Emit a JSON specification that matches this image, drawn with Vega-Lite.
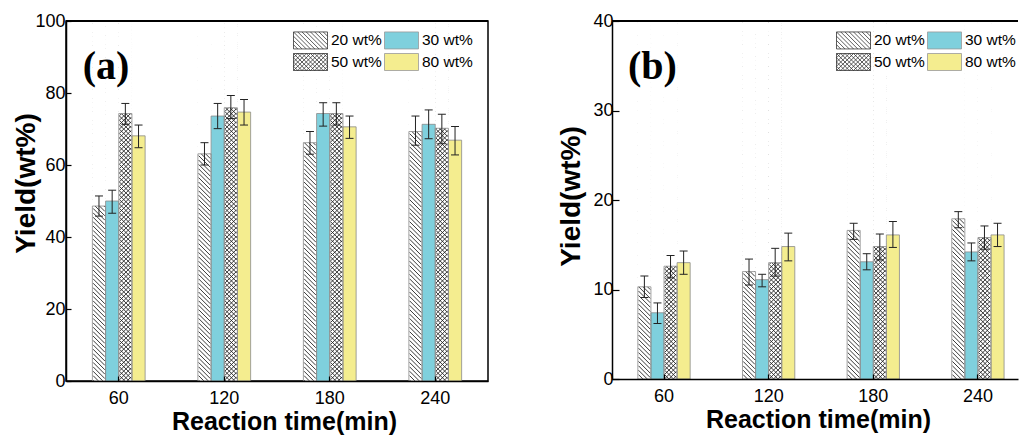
{
  "$schema": "https://vega.github.io/schema/vega-lite/v6.json",
  "background": "white",
  "padding": {"left": 11, "top": 11, "right": 0, "bottom": 0},
  "datasets": {
    "a": [
      {"t": 60, "s": "20 wt%", "v": 48.6, "lo": 45.8, "hi": 51.4},
      {"t": 60, "s": "30 wt%", "v": 50.0, "lo": 46.6, "hi": 53.0},
      {"t": 60, "s": "50 wt%", "v": 74.3, "lo": 71.3, "hi": 77.1},
      {"t": 60, "s": "80 wt%", "v": 68.1, "lo": 64.8, "hi": 71.1},
      {"t": 120, "s": "20 wt%", "v": 63.1, "lo": 60.0, "hi": 66.2},
      {"t": 120, "s": "30 wt%", "v": 73.6, "lo": 70.1, "hi": 77.1},
      {"t": 120, "s": "50 wt%", "v": 75.9, "lo": 72.9, "hi": 79.3},
      {"t": 120, "s": "80 wt%", "v": 74.7, "lo": 71.1, "hi": 78.2},
      {"t": 180, "s": "20 wt%", "v": 66.2, "lo": 63.0, "hi": 69.3},
      {"t": 180, "s": "30 wt%", "v": 74.3, "lo": 70.8, "hi": 77.3},
      {"t": 180, "s": "50 wt%", "v": 74.3, "lo": 71.1, "hi": 77.3},
      {"t": 180, "s": "80 wt%", "v": 70.6, "lo": 67.4, "hi": 73.6},
      {"t": 240, "s": "20 wt%", "v": 69.3, "lo": 65.5, "hi": 73.6},
      {"t": 240, "s": "30 wt%", "v": 71.3, "lo": 67.3, "hi": 75.3},
      {"t": 240, "s": "50 wt%", "v": 70.2, "lo": 65.9, "hi": 74.1},
      {"t": 240, "s": "80 wt%", "v": 66.9, "lo": 62.8, "hi": 70.7}
    ],
    "b": [
      {"t": 60, "s": "20 wt%", "v": 10.3, "lo": 9.1, "hi": 11.5},
      {"t": 60, "s": "30 wt%", "v": 7.4, "lo": 6.2, "hi": 8.5},
      {"t": 60, "s": "50 wt%", "v": 12.6, "lo": 11.3, "hi": 13.8},
      {"t": 60, "s": "80 wt%", "v": 13.0, "lo": 11.7, "hi": 14.3},
      {"t": 120, "s": "20 wt%", "v": 12.0, "lo": 10.5, "hi": 13.4},
      {"t": 120, "s": "30 wt%", "v": 11.1, "lo": 10.3, "hi": 11.7},
      {"t": 120, "s": "50 wt%", "v": 13.0, "lo": 11.5, "hi": 14.6},
      {"t": 120, "s": "80 wt%", "v": 14.8, "lo": 13.2, "hi": 16.3},
      {"t": 180, "s": "20 wt%", "v": 16.6, "lo": 15.6, "hi": 17.4},
      {"t": 180, "s": "30 wt%", "v": 13.1, "lo": 12.2, "hi": 14.0},
      {"t": 180, "s": "50 wt%", "v": 14.8, "lo": 13.3, "hi": 16.2},
      {"t": 180, "s": "80 wt%", "v": 16.1, "lo": 14.7, "hi": 17.6},
      {"t": 240, "s": "20 wt%", "v": 17.9, "lo": 16.9, "hi": 18.7},
      {"t": 240, "s": "30 wt%", "v": 14.2, "lo": 13.2, "hi": 15.2},
      {"t": 240, "s": "50 wt%", "v": 15.8, "lo": 14.5, "hi": 17.1},
      {"t": 240, "s": "80 wt%", "v": 16.1, "lo": 14.8, "hi": 17.4}
    ]
  },
  "spacing": 67,
  "resolve": {
    "scale": {"fill": "independent", "x": "independent", "y": "independent", "xOffset": "independent"},
    "legend": {"fill": "independent"}
  },
  "hconcat": [
    {
      "width": 422,
      "height": 360,
      "data": {"name": "a"},
      "view": {"stroke": "black", "strokeWidth": 1.5},
      "layer": [
        {
          "mark": {"type": "bar", "opacity": 1, "strokeWidth": 0},
          "encoding": {
            "x": {"field": "t", "type": "ordinal", "title": "Reaction time(min)", "scale": {"paddingInner": 0.5, "paddingOuter": 0.25}, "axis": {"labelAngle": 0, "tickSize": -5, "labelPadding": 13, "titleX": 218, "titleY": 48, "titleBaseline": "alphabetic", "zindex": 1}},
            "xOffset": {"field": "s", "type": "nominal", "scale": {"domain": ["20 wt%", "30 wt%", "50 wt%", "80 wt%"], "paddingInner": 0, "paddingOuter": 0}},
            "y": {"field": "v", "type": "quantitative", "title": "Yield(wt%)", "scale": {"domain": [0, 100], "nice": false}, "axis": {"values": [0, 20, 40, 60, 80, 100], "tickSize": -5, "labelPadding": 6, "titleX": -32, "titleY": 162, "titleBaseline": "alphabetic", "zindex": 1}},
            "fill": {
              "field": "s", "type": "nominal",
              "scale": {"domain": ["20 wt%", "30 wt%", "50 wt%", "80 wt%"], "range": ["#ffffff", "#7fd0dd", "#ffffff", "#f4ed8f"]},
              "legend": {
                "orient": "none", "legendX": 227, "legendY": 10, "columns": 2, "direction": "horizontal", "title": null,
                "symbolSize": 289, "labelOffset": 20, "columnPadding": 0, "rowPadding": 0,
                "symbolType": {"expr": "datum.value === '20 wt%' ? 'M-1,-1H3V1H-1ZM2.5,-1L3,-0.5M2,-1L3,0M1.5,-1L3,0.5M1,-1L3,1M0.5,-1L2.5,1M0,-1L2,1M-0.5,-1L1.5,1M-1,-1L1,1M-1,-0.5L0.5,1M-1,0L0,1M-1,0.5L-0.5,1' : datum.value === '50 wt%' ? 'M-1,-1H3V1H-1ZM2.5,-1L3,-0.5M2,-1L3,0M1.5,-1L3,0.5M1,-1L3,1M0.5,-1L2.5,1M0,-1L2,1M-0.5,-1L1.5,1M-1,-1L1,1M-1,-0.5L0.5,1M-1,0L0,1M-1,0.5L-0.5,1M-1,-0.5L-0.5,-1M-1,0L0,-1M-1,0.5L0.5,-1M-1,1L1,-1M-0.5,1L1.5,-1M0,1L2,-1M0.5,1L2.5,-1M1,1L3,-1M1.5,1L3,-0.5M2,1L3,0M2.5,1L3,0.5' : 'M-1,-1H3V1H-1Z'"},
                "symbolStrokeColor": {"expr": "datum.value === '20 wt%' || datum.value === '50 wt%' ? '#333333' : '#999999'"},
                "symbolStrokeWidth": 0.8
              }
            }
          }
        },
        {
          "transform": [{"filter": {"field": "s", "oneOf": ["20 wt%", "50 wt%"]}}],
          "mark": {"type": "point", "style": "h20", "size": 4, "filled": false, "stroke": "#222222", "strokeWidth": 0.9, "opacity": 1, "clip": true},
          "encoding": {
            "x": {"field": "t", "type": "ordinal", "title": "Reaction time(min)"},
            "xOffset": {"field": "s", "type": "nominal"},
            "y": {"datum": 50, "type": "quantitative"}
          }
        },
        {
          "transform": [{"filter": {"field": "s", "equal": "50 wt%"}}],
          "mark": {"type": "point", "style": "hx", "size": 4, "filled": false, "stroke": "#222222", "strokeWidth": 0.9, "opacity": 1, "clip": true},
          "encoding": {
            "x": {"field": "t", "type": "ordinal", "title": "Reaction time(min)"},
            "xOffset": {"field": "s", "type": "nominal"},
            "y": {"datum": 50, "type": "quantitative"}
          }
        },
        {
          "transform": [{"filter": {"field": "s", "oneOf": ["20 wt%", "50 wt%"]}}],
          "mark": {"type": "bar", "fill": "white", "opacity": 1, "strokeWidth": 0},
          "encoding": {
            "x": {"field": "t", "type": "ordinal", "title": "Reaction time(min)"},
            "xOffset": {"field": "s", "type": "nominal"},
            "y": {"field": "v", "type": "quantitative", "title": "Yield(wt%)"},
            "y2": {"datum": 100}
          }
        },
        {
          "mark": {"type": "bar", "fillOpacity": 0, "stroke": "#8a8a8a", "strokeWidth": 0.8, "opacity": 1},
          "encoding": {
            "x": {"field": "t", "type": "ordinal", "title": "Reaction time(min)"},
            "xOffset": {"field": "s", "type": "nominal"},
            "y": {"field": "v", "type": "quantitative", "title": "Yield(wt%)"}
          }
        },
        {
          "mark": {"type": "rule", "color": "#222222", "strokeWidth": 1, "opacity": 1},
          "encoding": {
            "x": {"field": "t", "type": "ordinal", "title": "Reaction time(min)"},
            "xOffset": {"field": "s", "type": "nominal"},
            "y": {"field": "lo", "type": "quantitative", "title": "Yield(wt%)"},
            "y2": {"field": "hi"}
          }
        },
        {
          "mark": {"type": "tick", "color": "#222222", "thickness": 1, "size": 8, "opacity": 1},
          "encoding": {
            "x": {"field": "t", "type": "ordinal", "title": "Reaction time(min)"},
            "xOffset": {"field": "s", "type": "nominal"},
            "y": {"field": "lo", "type": "quantitative", "title": "Yield(wt%)"}
          }
        },
        {
          "mark": {"type": "tick", "color": "#222222", "thickness": 1, "size": 8, "opacity": 1},
          "encoding": {
            "x": {"field": "t", "type": "ordinal", "title": "Reaction time(min)"},
            "xOffset": {"field": "s", "type": "nominal"},
            "y": {"field": "hi", "type": "quantitative", "title": "Yield(wt%)"}
          }
        },
        {
          "mark": {"type": "rule", "color": "black", "strokeWidth": 1.5},
          "encoding": {"y": {"datum": 100, "type": "quantitative"}}
        },
        {
          "data": {"values": [{"label": "(a)"}]},
          "mark": {"type": "text", "font": "Liberation Serif", "fontSize": 40, "fontWeight": "bold", "color": "black", "align": "left", "baseline": "alphabetic", "dx": -36},
          "encoding": {
            "x": {"datum": 60, "type": "ordinal"},
            "y": {"datum": 83.9, "type": "quantitative"},
            "text": {"field": "label"}
          }
        }
      ]
    },
    {
      "width": 406,
      "height": 358,
      "data": {"name": "b"},
      "view": {"stroke": null},
      "layer": [
        {
          "mark": {"type": "bar", "opacity": 1, "strokeWidth": 0},
          "encoding": {
            "x": {"field": "t", "type": "ordinal", "title": "Reaction time(min)", "scale": {"paddingInner": 0.5, "paddingOuter": 0.19, "align": 0.65}, "axis": {"labelAngle": 0, "tickSize": -5, "labelPadding": 13, "titleX": 206, "titleY": 48, "titleBaseline": "alphabetic", "zindex": 1}},
            "xOffset": {"field": "s", "type": "nominal", "scale": {"domain": ["20 wt%", "30 wt%", "50 wt%", "80 wt%"], "paddingInner": 0, "paddingOuter": 0}},
            "y": {"field": "v", "type": "quantitative", "title": "Yield(wt%)", "scale": {"domain": [0, 40], "nice": false}, "axis": {"values": [0, 10, 20, 30, 40], "tickSize": -7, "labelPadding": 6, "titleX": -33, "titleY": 175, "titleBaseline": "alphabetic", "zindex": 1}},
            "fill": {
              "field": "s", "type": "nominal",
              "scale": {"domain": ["20 wt%", "30 wt%", "50 wt%", "80 wt%"], "range": ["#ffffff", "#7fd0dd", "#ffffff", "#f4ed8f"]},
              "legend": {
                "orient": "none", "legendX": 224, "legendY": 10, "columns": 2, "direction": "horizontal", "title": null,
                "symbolSize": 289, "labelOffset": 20, "columnPadding": 0, "rowPadding": 0,
                "symbolType": {"expr": "datum.value === '20 wt%' ? 'M-1,-1H3V1H-1ZM2.5,-1L3,-0.5M2,-1L3,0M1.5,-1L3,0.5M1,-1L3,1M0.5,-1L2.5,1M0,-1L2,1M-0.5,-1L1.5,1M-1,-1L1,1M-1,-0.5L0.5,1M-1,0L0,1M-1,0.5L-0.5,1' : datum.value === '50 wt%' ? 'M-1,-1H3V1H-1ZM2.5,-1L3,-0.5M2,-1L3,0M1.5,-1L3,0.5M1,-1L3,1M0.5,-1L2.5,1M0,-1L2,1M-0.5,-1L1.5,1M-1,-1L1,1M-1,-0.5L0.5,1M-1,0L0,1M-1,0.5L-0.5,1M-1,-0.5L-0.5,-1M-1,0L0,-1M-1,0.5L0.5,-1M-1,1L1,-1M-0.5,1L1.5,-1M0,1L2,-1M0.5,1L2.5,-1M1,1L3,-1M1.5,1L3,-0.5M2,1L3,0M2.5,1L3,0.5' : 'M-1,-1H3V1H-1Z'"},
                "symbolStrokeColor": {"expr": "datum.value === '20 wt%' || datum.value === '50 wt%' ? '#333333' : '#999999'"},
                "symbolStrokeWidth": 0.8
              }
            }
          }
        },
        {
          "transform": [{"filter": {"field": "s", "oneOf": ["20 wt%", "50 wt%"]}}],
          "mark": {"type": "point", "style": "h20", "size": 4, "filled": false, "stroke": "#222222", "strokeWidth": 0.9, "opacity": 1, "clip": true},
          "encoding": {
            "x": {"field": "t", "type": "ordinal", "title": "Reaction time(min)"},
            "xOffset": {"field": "s", "type": "nominal"},
            "y": {"datum": 20, "type": "quantitative"}
          }
        },
        {
          "transform": [{"filter": {"field": "s", "equal": "50 wt%"}}],
          "mark": {"type": "point", "style": "hx", "size": 4, "filled": false, "stroke": "#222222", "strokeWidth": 0.9, "opacity": 1, "clip": true},
          "encoding": {
            "x": {"field": "t", "type": "ordinal", "title": "Reaction time(min)"},
            "xOffset": {"field": "s", "type": "nominal"},
            "y": {"datum": 20, "type": "quantitative"}
          }
        },
        {
          "transform": [{"filter": {"field": "s", "oneOf": ["20 wt%", "50 wt%"]}}],
          "mark": {"type": "bar", "fill": "white", "opacity": 1, "strokeWidth": 0},
          "encoding": {
            "x": {"field": "t", "type": "ordinal", "title": "Reaction time(min)"},
            "xOffset": {"field": "s", "type": "nominal"},
            "y": {"field": "v", "type": "quantitative", "title": "Yield(wt%)"},
            "y2": {"datum": 40}
          }
        },
        {
          "mark": {"type": "bar", "fillOpacity": 0, "stroke": "#8a8a8a", "strokeWidth": 0.8, "opacity": 1},
          "encoding": {
            "x": {"field": "t", "type": "ordinal", "title": "Reaction time(min)"},
            "xOffset": {"field": "s", "type": "nominal"},
            "y": {"field": "v", "type": "quantitative", "title": "Yield(wt%)"}
          }
        },
        {
          "mark": {"type": "rule", "color": "#222222", "strokeWidth": 1, "opacity": 1},
          "encoding": {
            "x": {"field": "t", "type": "ordinal", "title": "Reaction time(min)"},
            "xOffset": {"field": "s", "type": "nominal"},
            "y": {"field": "lo", "type": "quantitative", "title": "Yield(wt%)"},
            "y2": {"field": "hi"}
          }
        },
        {
          "mark": {"type": "tick", "color": "#222222", "thickness": 1, "size": 8, "opacity": 1},
          "encoding": {
            "x": {"field": "t", "type": "ordinal", "title": "Reaction time(min)"},
            "xOffset": {"field": "s", "type": "nominal"},
            "y": {"field": "lo", "type": "quantitative", "title": "Yield(wt%)"}
          }
        },
        {
          "mark": {"type": "tick", "color": "#222222", "thickness": 1, "size": 8, "opacity": 1},
          "encoding": {
            "x": {"field": "t", "type": "ordinal", "title": "Reaction time(min)"},
            "xOffset": {"field": "s", "type": "nominal"},
            "y": {"field": "hi", "type": "quantitative", "title": "Yield(wt%)"}
          }
        },
        {
          "mark": {"type": "rule", "color": "black", "strokeWidth": 1.5},
          "encoding": {"y": {"datum": 40, "type": "quantitative"}}
        },
        {
          "data": {"values": [{"label": "(b)"}]},
          "mark": {"type": "text", "font": "Liberation Serif", "fontSize": 40, "fontWeight": "bold", "color": "black", "align": "left", "baseline": "alphabetic", "dx": -36},
          "encoding": {
            "x": {"datum": 60, "type": "ordinal"},
            "y": {"datum": 33.5, "type": "quantitative"},
            "text": {"field": "label"}
          }
        }
      ]
    }
  ],
  "config": {
    "font": "Liberation Sans",
    "view": {"stroke": null},
    "axis": {
      "domainColor": "black", "domainWidth": 1.5, "tickColor": "black", "tickWidth": 1.2,
      "labelColor": "black", "labelFont": "Liberation Sans", "labelFontSize": 18,
      "titleFont": "Liberation Sans", "titleFontWeight": "bold", "titleColor": "black", "grid": false
    },
    "axisX": {"titleFontSize": 25},
    "axisY": {"titleFontSize": 28},
    "legend": {"labelFont": "Liberation Sans", "labelFontSize": 15.5, "labelColor": "black"},
    "style": {
      "h20": {"shape": "M-5.9,-195l11.8,11.8m-11.8,-7.4l11.8,11.8m-11.8,-7.4l11.8,11.8m-11.8,-7.4l11.8,11.8m-11.8,-7.4l11.8,11.8m-11.8,-7.4l11.8,11.8m-11.8,-7.4l11.8,11.8m-11.8,-7.4l11.8,11.8m-11.8,-7.4l11.8,11.8m-11.8,-7.4l11.8,11.8m-11.8,-7.4l11.8,11.8m-11.8,-7.4l11.8,11.8m-11.8,-7.4l11.8,11.8m-11.8,-7.4l11.8,11.8m-11.8,-7.4l11.8,11.8m-11.8,-7.4l11.8,11.8m-11.8,-7.4l11.8,11.8m-11.8,-7.4l11.8,11.8m-11.8,-7.4l11.8,11.8m-11.8,-7.4l11.8,11.8m-11.8,-7.4l11.8,11.8m-11.8,-7.4l11.8,11.8m-11.8,-7.4l11.8,11.8m-11.8,-7.4l11.8,11.8m-11.8,-7.4l11.8,11.8m-11.8,-7.4l11.8,11.8m-11.8,-7.4l11.8,11.8m-11.8,-7.4l11.8,11.8m-11.8,-7.4l11.8,11.8m-11.8,-7.4l11.8,11.8m-11.8,-7.4l11.8,11.8m-11.8,-7.4l11.8,11.8m-11.8,-7.4l11.8,11.8m-11.8,-7.4l11.8,11.8m-11.8,-7.4l11.8,11.8m-11.8,-7.4l11.8,11.8m-11.8,-7.4l11.8,11.8m-11.8,-7.4l11.8,11.8m-11.8,-7.4l11.8,11.8m-11.8,-7.4l11.8,11.8m-11.8,-7.4l11.8,11.8m-11.8,-7.4l11.8,11.8m-11.8,-7.4l11.8,11.8m-11.8,-7.4l11.8,11.8m-11.8,-7.4l11.8,11.8m-11.8,-7.4l11.8,11.8m-11.8,-7.4l11.8,11.8m-11.8,-7.4l11.8,11.8m-11.8,-7.4l11.8,11.8m-11.8,-7.4l11.8,11.8m-11.8,-7.4l11.8,11.8m-11.8,-7.4l11.8,11.8m-11.8,-7.4l11.8,11.8m-11.8,-7.4l11.8,11.8m-11.8,-7.4l11.8,11.8m-11.8,-7.4l11.8,11.8m-11.8,-7.4l11.8,11.8m-11.8,-7.4l11.8,11.8m-11.8,-7.4l11.8,11.8m-11.8,-7.4l11.8,11.8m-11.8,-7.4l11.8,11.8m-11.8,-7.4l11.8,11.8m-11.8,-7.4l11.8,11.8m-11.8,-7.4l11.8,11.8m-11.8,-7.4l11.8,11.8m-11.8,-7.4l11.8,11.8m-11.8,-7.4l11.8,11.8m-11.8,-7.4l11.8,11.8m-11.8,-7.4l11.8,11.8m-11.8,-7.4l11.8,11.8m-11.8,-7.4l11.8,11.8m-11.8,-7.4l11.8,11.8m-11.8,-7.4l11.8,11.8m-11.8,-7.4l11.8,11.8m-11.8,-7.4l11.8,11.8m-11.8,-7.4l11.8,11.8m-11.8,-7.4l11.8,11.8m-11.8,-7.4l11.8,11.8m-11.8,-7.4l11.8,11.8m-11.8,-7.4l11.8,11.8m-11.8,-7.4l11.8,11.8m-11.8,-7.4l11.8,11.8m-11.8,-7.4l11.8,11.8m-11.8,-7.4l11.8,11.8m-11.8,-7.4l11.8,11.8m-11.8,-7.4l11.8,11.8m-11.8,-7.4l11.8,11.8m-11.8,-7.4l11.8,11.8m-11.8,-7.4l11.8,11.8m-11.8,-7.4"},
      "hx": {"shape": "M-5.9,-182l11.8,-11.8m-11.8,16.2l11.8,-11.8m-11.8,16.2l11.8,-11.8m-11.8,16.2l11.8,-11.8m-11.8,16.2l11.8,-11.8m-11.8,16.2l11.8,-11.8m-11.8,16.2l11.8,-11.8m-11.8,16.2l11.8,-11.8m-11.8,16.2l11.8,-11.8m-11.8,16.2l11.8,-11.8m-11.8,16.2l11.8,-11.8m-11.8,16.2l11.8,-11.8m-11.8,16.2l11.8,-11.8m-11.8,16.2l11.8,-11.8m-11.8,16.2l11.8,-11.8m-11.8,16.2l11.8,-11.8m-11.8,16.2l11.8,-11.8m-11.8,16.2l11.8,-11.8m-11.8,16.2l11.8,-11.8m-11.8,16.2l11.8,-11.8m-11.8,16.2l11.8,-11.8m-11.8,16.2l11.8,-11.8m-11.8,16.2l11.8,-11.8m-11.8,16.2l11.8,-11.8m-11.8,16.2l11.8,-11.8m-11.8,16.2l11.8,-11.8m-11.8,16.2l11.8,-11.8m-11.8,16.2l11.8,-11.8m-11.8,16.2l11.8,-11.8m-11.8,16.2l11.8,-11.8m-11.8,16.2l11.8,-11.8m-11.8,16.2l11.8,-11.8m-11.8,16.2l11.8,-11.8m-11.8,16.2l11.8,-11.8m-11.8,16.2l11.8,-11.8m-11.8,16.2l11.8,-11.8m-11.8,16.2l11.8,-11.8m-11.8,16.2l11.8,-11.8m-11.8,16.2l11.8,-11.8m-11.8,16.2l11.8,-11.8m-11.8,16.2l11.8,-11.8m-11.8,16.2l11.8,-11.8m-11.8,16.2l11.8,-11.8m-11.8,16.2l11.8,-11.8m-11.8,16.2l11.8,-11.8m-11.8,16.2l11.8,-11.8m-11.8,16.2l11.8,-11.8m-11.8,16.2l11.8,-11.8m-11.8,16.2l11.8,-11.8m-11.8,16.2l11.8,-11.8m-11.8,16.2l11.8,-11.8m-11.8,16.2l11.8,-11.8m-11.8,16.2l11.8,-11.8m-11.8,16.2l11.8,-11.8m-11.8,16.2l11.8,-11.8m-11.8,16.2l11.8,-11.8m-11.8,16.2l11.8,-11.8m-11.8,16.2l11.8,-11.8m-11.8,16.2l11.8,-11.8m-11.8,16.2l11.8,-11.8m-11.8,16.2l11.8,-11.8m-11.8,16.2l11.8,-11.8m-11.8,16.2l11.8,-11.8m-11.8,16.2l11.8,-11.8m-11.8,16.2l11.8,-11.8m-11.8,16.2l11.8,-11.8m-11.8,16.2l11.8,-11.8m-11.8,16.2l11.8,-11.8m-11.8,16.2l11.8,-11.8m-11.8,16.2l11.8,-11.8m-11.8,16.2l11.8,-11.8m-11.8,16.2l11.8,-11.8m-11.8,16.2l11.8,-11.8m-11.8,16.2l11.8,-11.8m-11.8,16.2l11.8,-11.8m-11.8,16.2l11.8,-11.8m-11.8,16.2l11.8,-11.8m-11.8,16.2l11.8,-11.8m-11.8,16.2l11.8,-11.8m-11.8,16.2l11.8,-11.8m-11.8,16.2l11.8,-11.8m-11.8,16.2l11.8,-11.8m-11.8,16.2l11.8,-11.8m-11.8,16.2l11.8,-11.8m-11.8,16.2l11.8,-11.8m-11.8,16.2l11.8,-11.8m-11.8,16.2l11.8,-11.8m-11.8,16.2l11.8,-11.8m-11.8,16.2l11.8,-11.8m-11.8,16.2l11.8,-11.8m-11.8,16.2"}
    }
  }
}
